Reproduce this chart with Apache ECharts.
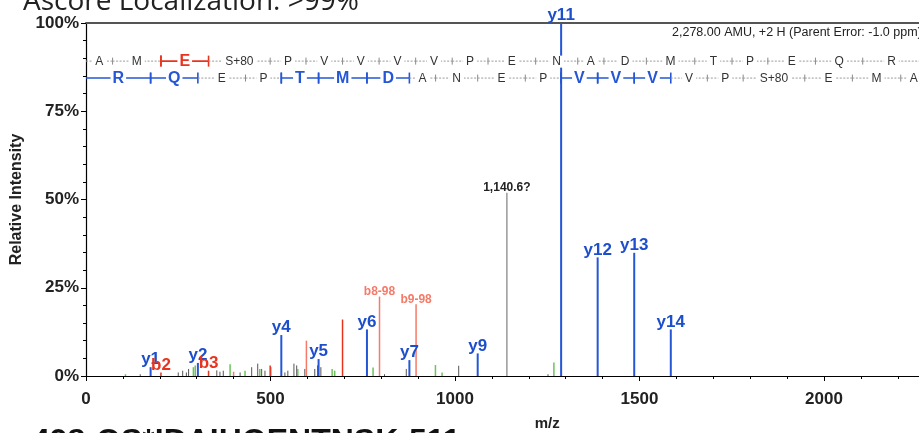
<!DOCTYPE html>
<html><head><meta charset="utf-8">
<script src="https://cdn.jsdelivr.net/npm/echarts@6/dist/echarts.min.js"></script>
<style>html,body{margin:0;padding:0;background:#fff}#c{width:919px;height:433px}</style>
</head><body><div id="c"></div>
<script>
// ---- data ----
const xTicks = [0, 500, 1000, 1500, 2000, 2500];
const yTicks = [0, 25, 50, 75, 100];

const yIonMz     = [175.1, 303.2, 529.3, 630.3, 761.4, 876.4, 1061.5, 1287.6, 1386.6, 1485.7, 1584.8];
const yIonInt    = [2.5, 3.7, 11.6, 4.8, 13.2, 4.5, 6.4, 100, 33.6, 34.9, 13.2];
const yIonLabels = ['y1','y2','y4','y5','y6','y7','y9','y11','y12','y13','y14'];

const bIonMz     = [203.1, 332.1, 499.1, 695.2];
const bIonInt    = [1.0, 1.5, 3.0, 16.0];
const bIonLabels = ['b2','b3','',''];

const lossMz     = [400.0, 597.3, 795.4, 894.5];
const lossInt    = [1.2, 10.0, 22.5, 20.3];
const lossLabels = ['', '', 'b8-98', 'b9-98'];

const unknownMz     = [1140.6];
const unknownInt    = [51.9];
const unknownLabels = ['1,140.6?'];

const greenMz  = [107, 291, 296, 390.5, 431, 471, 574, 667, 674, 778, 947, 965, 1268];
const greenInt = [0.5, 2.5, 3.0, 3.3, 1.5, 2.0, 2.0, 2.0, 1.5, 2.4, 3.1, 1.0, 3.8];

const grayMz  = [147, 250, 262, 272, 278, 354.5, 363, 372, 417.6, 449, 465.4, 476, 485, 501, 539, 547, 563.5, 571, 593, 620, 627.6, 636.5, 809, 868, 1010, 1252];
const grayInt = [0.5, 1.0, 1.5, 1.0, 2.0, 1.6, 1.2, 1.5, 1.0, 2.5, 3.5, 2.0, 1.5, 2.5, 1.0, 1.5, 3.5, 3.0, 2.0, 2.0, 3.0, 2.5, 0.5, 2.0, 2.9, 0.5];

// fragment ladders (m/z of cleavage sites)
const bLadder   = [0, 72.04, 203.09, 332.13, 499.13, 596.18, 695.25, 794.32, 893.38, 992.45, 1089.51, 1218.55, 1332.59, 1403.63, 1518.66, 1649.70, 1750.74, 1847.80, 1976.84, 2104.90, 2261.00];
const bResidues = ['A','M','E','S+80','P','V','V','V','V','P','E','N','A','D','M','T','P','E','Q','R'];
const bHighlight = [2];
const yLadder   = [0, 175.12, 303.18, 432.22, 529.27, 630.32, 761.36, 876.39, 947.43, 1061.47, 1190.51, 1287.56, 1386.63, 1485.70, 1584.77, 1683.84, 1780.89, 1947.89, 2076.93, 2207.97, 2279.01];
const yResidues = ['R','Q','E','P','T','M','D','A','N','E','P','V','V','V','V','P','S+80','E','M','A'];
const yHighlight = [0,1,4,5,6,11,12,13];

const titleText  = 'Ascore Localization: >99%';
const footerText = '498-QS*IDAIHQENTNSK-511';
const headerText = '2,278.00 AMU, +2 H (Parent Error: -1.0 ppm)';

// ---- chart ----
const FF = '"Liberation Sans", Arial, Helvetica, sans-serif';
const BLUE = '#2456d6', BLUE_T = '#1d4fcc', RED = '#e8341e', SALMON = '#f67a68', GREEN = '#6cc35c', GRAY = '#555555', LGRAY = '#999999';

function peakSeries(mz, ints, labels, color, width, lab) {
  return {
    type: 'custom', clip: false, z: lab && lab.z ? lab.z : 3,
    data: mz.map((m, i) => [m, ints[i]]),
    renderItem: function (params, api) {
      const x = api.value(0), v = api.value(1);
      const p0 = api.coord([x, 0]), p1 = api.coord([x, v]);
      const children = [{ type: 'line', shape: { x1: p0[0], y1: p0[1], x2: p1[0], y2: p1[1] },
        style: { stroke: color, lineWidth: width } }];
      const t = labels ? labels[params.dataIndex] : '';
      if (t) {
        children.push({ type: 'text', z2: 10, style: { text: t, x: p1[0], y: p1[1] + lab.off,
          align: 'center', verticalAlign: 'bottom', fill: lab.color,
          font: 'bold ' + lab.size + 'px ' + FF } });
      }
      return { type: 'group', children: children };
    }
  };
}

function ladderSeries(ladder, residues, highlight, rowVal, hiColor) {
  const data = residues.map((r, i) => [ladder[i], ladder[i + 1], rowVal, i]);
  return {
    type: 'custom', clip: false, z: 4,
    data: data,
    renderItem: function (params, api) {
      const i = params.dataIndex;
      const a = api.coord([api.value(0), api.value(2)]);
      const b = api.coord([api.value(1), api.value(2)]);
      const hi = highlight.indexOf(i) >= 0;
      const nextHi = highlight.indexOf(i + 1) >= 0;
      const y = a[1];
      const ch = [];
      ch.push({ type: 'line', shape: { x1: a[0], y1: y, x2: b[0], y2: y },
        style: hi ? { stroke: hiColor, lineWidth: 1.6 } : { stroke: '#9a9a9a', lineWidth: 1, lineDash: [2, 1.5] } });
      const tickColored = hi || nextHi;
      const th = tickColored ? 5.5 : 3.5;
      ch.push({ type: 'line', shape: { x1: b[0], y1: y - th, x2: b[0], y2: y + th },
        style: { stroke: tickColored ? hiColor : '#8a8a8a', lineWidth: tickColored ? 1.6 : 1 } });
      if (i > 0 && hi) {
        ch.push({ type: 'line', shape: { x1: a[0], y1: y - 5.5, x2: a[0], y2: y + 5.5 },
          style: { stroke: hiColor, lineWidth: 1.6 } });
      }
      ch.push({ type: 'text', z2: 5, style: { text: residues[i], x: (a[0] + b[0]) / 2, y: y + 0.5,
        align: 'center', verticalAlign: 'middle',
        fill: hi ? hiColor : '#333',
        font: (hi ? 'bold 16px ' : '12px ') + FF,
        backgroundColor: '#fff', padding: hi ? [0, 2] : [0, 3] } });
      return { type: 'group', children: ch };
    }
  };
}

const chart = echarts.init(document.getElementById('c'), null, { renderer: 'canvas' });
chart.setOption({
  animation: false,
  backgroundColor: '#fff',
  grid: { left: 86, top: 23, width: 922.5, height: 353, containLabel: false, outerBoundsMode: 'none' },
  xAxis: [{
    type: 'value', min: xTicks[0], max: xTicks[xTicks.length - 1], interval: 500,
    name: 'm/z', nameLocation: 'middle', nameGap: 40,
    nameTextStyle: { fontFamily: FF, fontWeight: 'bold', fontSize: 15, color: '#222' },
    axisLine: { lineStyle: { color: '#000', width: 1.2 } },
    axisTick: { length: 5, lineStyle: { color: '#000' } },
    minorTick: { show: true, splitNumber: 5, length: 3, lineStyle: { color: '#000' } },
    splitLine: { show: false },
    axisLabel: { margin: 15, fontFamily: FF, fontWeight: 'bold', fontSize: 17, color: '#222', showMaxLabel: false,
      formatter: function (v) { return String(v); } }
  }, {
    type: 'value', position: 'top', min: xTicks[0], max: xTicks[xTicks.length - 1],
    axisLine: { show: true, lineStyle: { color: '#555', width: 2 } },
    axisTick: { show: false }, axisLabel: { show: false }, splitLine: { show: false }
  }],
  yAxis: {
    type: 'value', min: yTicks[0], max: yTicks[yTicks.length - 1], interval: 25,
    name: 'Relative Intensity', nameLocation: 'middle', nameGap: 58, nameRotate: 90,
    nameTextStyle: { fontFamily: FF, fontWeight: 'bold', fontSize: 16, color: '#222' },
    axisLine: { show: true, lineStyle: { color: '#000', width: 1.2 } },
    axisTick: { show: true, length: 5, lineStyle: { color: '#000' } },
    minorTick: { show: true, splitNumber: 5, length: 3, lineStyle: { color: '#000' } },
    splitLine: { show: false },
    axisLabel: { margin: 7, padding: [9, 0, 0, 0], fontFamily: FF, fontWeight: 'bold', fontSize: 17, color: '#222',
      formatter: '{value}%' }
  },
  graphic: [
    { type: 'text', left: 23, top: -12, style: { text: titleText, font: '28px "Open Sans", ' + FF, fill: '#222' } },
    { type: 'text', left: 32, top: 426, style: { text: footerText, font: 'bold 32px ' + FF, fill: '#111' } },
    { type: 'text', left: 672, top: 26, style: { text: headerText, font: '12.5px ' + FF, fill: '#222' } }
  ],
  series: [
    peakSeries(grayMz, grayInt, null, GRAY, 1),
    peakSeries(greenMz, greenInt, null, GREEN, 1.5),
    peakSeries(unknownMz, unknownInt, unknownLabels, LGRAY, 1.5, { color: '#222', size: 12, off: 1 }),
    peakSeries(lossMz, lossInt, lossLabels, SALMON, 1.5, { color: SALMON, size: 12, off: 1 }),
    peakSeries(bIonMz, bIonInt, bIonLabels, RED, 1.5, { color: RED, size: 17, off: 1, z: 5 }),
    peakSeries(yIonMz, yIonInt, yIonLabels, BLUE, 2, { color: BLUE_T, size: 17, off: 1, z: 4 }),
    ladderSeries(bLadder, bResidues, bHighlight, 89.2, RED),
    ladderSeries(yLadder, yResidues, yHighlight, 84.4, BLUE)
  ]
});
</script>
</body></html>
